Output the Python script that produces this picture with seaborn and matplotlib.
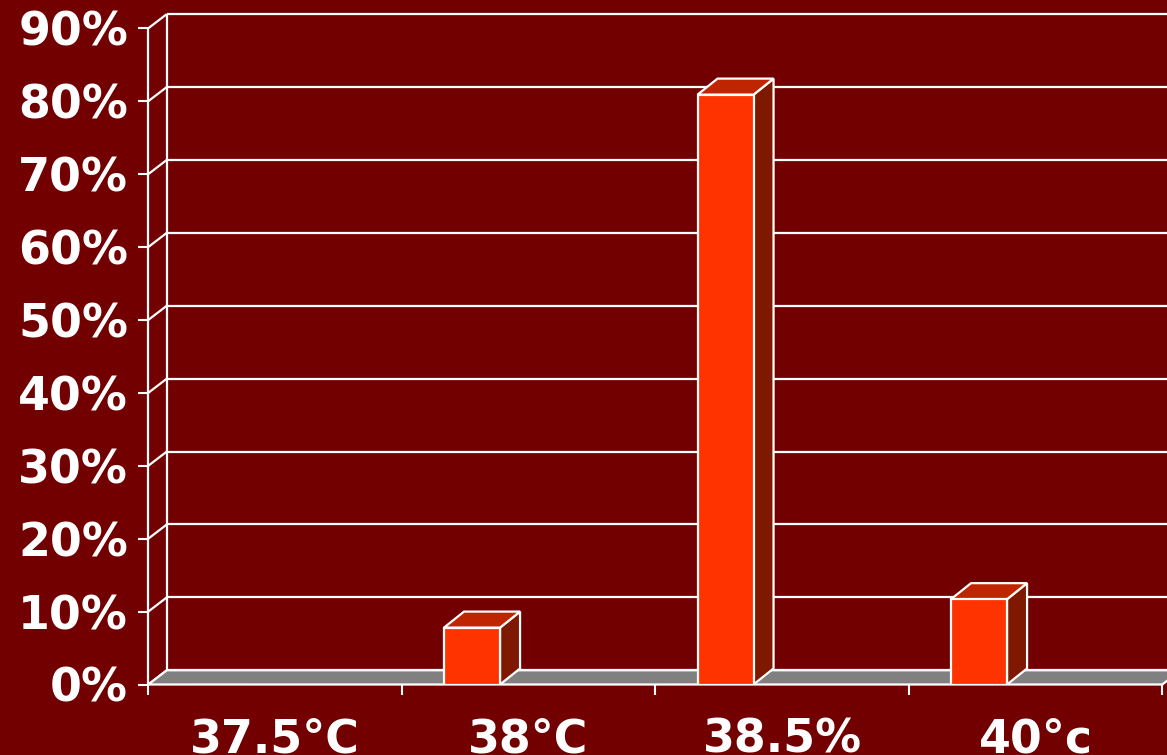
import numpy as np
import pandas as pd
import matplotlib.pyplot as plt
from matplotlib.patches import Polygon
import seaborn as sns

categories = ["37.5°C", "38°C", "38.5%", "40°c"]
shares = [0.0, 7.8, 80.9, 11.7]
y_ticks = [0, 10, 20, 30, 40, 50, 60, 70, 80, 90]
y_tick_labels = [f"{t}%" for t in y_ticks]

BG = "#730000"
FRONT = "#FF3300"
SIDE = "#7E1800"
TOP = "#BF2600"
FLOOR = "#808080"
WHITE = "white"

# fake 3d depth (data units): walls/floor and the bars
DX, DY = 0.073, 1.95
BAR_DX, BAR_DY = 0.079, 2.2
BAR_SHIFT = -0.223
BAR_W = 0.221

sns.set_style("dark", rc={"axes.facecolor": BG, "figure.facecolor": BG})
plt.rcParams["font.family"] = ["DejaVu Sans"]

fig = plt.figure(figsize=(11.67, 7.55), dpi=100, facecolor=BG)
ax = fig.add_axes([148.3 / 1167, 70.5 / 755, 1014 / 1167, 656.2 / 755])
ax.set_facecolor("none")

df = pd.DataFrame({"temp": categories, "share": shares})
n = len(categories)
x0, x1 = -0.5, n - 0.5

# back wall + side wall grid
line_kw = dict(color=WHITE, lw=1.6, clip_on=False, solid_capstyle="butt")
for t in y_ticks:
    ax.plot([x0 + DX, x1 + 1], [t + DY, t + DY], zorder=1, **line_kw)
    ax.plot([x0, x0 + DX], [t, t + DY], zorder=1, **line_kw)
ax.plot([x0 + DX, x0 + DX], [DY, y_ticks[-1] + DY], zorder=1, **line_kw)
ax.plot([x0, x0], [0, y_ticks[-1]], zorder=6, **line_kw)

# floor
floor = Polygon([(x0, 0), (x1, 0), (x1 + DX, DY), (x1 + 1, DY), (x1 + 1, DY),
                 (x0 + DX, DY)], closed=True, facecolor=FLOOR, edgecolor=WHITE,
                lw=1.6, zorder=2, clip_on=False)
ax.add_patch(floor)

sns.barplot(data=df, x="temp", y="share", width=BAR_W, color=FRONT, saturation=1,
            edgecolor=WHITE, linewidth=1.6, ax=ax, zorder=5)

for patch, val in zip(ax.patches[1:], shares):
    patch.set_x(patch.get_x() + BAR_SHIFT)
    if val <= 0:
        continue
    left = patch.get_x()
    right = left + patch.get_width()
    side = Polygon([(right, 0), (right + BAR_DX, BAR_DY), (right + BAR_DX, val + BAR_DY), (right, val)],
                   closed=True, facecolor=SIDE, edgecolor=WHITE, lw=1.6, zorder=4)
    top = Polygon([(left, val), (left + BAR_DX, val + BAR_DY), (right + BAR_DX, val + BAR_DY), (right, val)],
                  closed=True, facecolor=TOP, edgecolor=WHITE, lw=1.6, zorder=4)
    ax.add_patch(side)
    ax.add_patch(top)

ax.set_xlim(x0, x1)
ax.set_ylim(0, 90)
ax.set_yticks(y_ticks, y_tick_labels)
ax.set_xticks(range(n), categories)
ax.set_xticks(np.arange(x0, x1 + 0.01, 1.0), minor=True)
ax.set_xlabel("")
ax.set_ylabel("")
for s in ax.spines.values():
    s.set_visible(False)
ax.grid(False)

ax.tick_params(axis="y", left=True, colors=WHITE, length=7.5, width=1.5, pad=7,
               labelsize=33)
ax.tick_params(axis="x", which="major", bottom=True, length=0, pad=24,
               labelsize=33, labelcolor=WHITE)
ax.tick_params(axis="x", which="minor", bottom=True, colors=WHITE, length=7.5, width=1.5)
for lab in ax.get_xticklabels() + ax.get_yticklabels():
    lab.set_fontweight("bold")

fig.savefig("out.png", dpi=100, facecolor=BG)
